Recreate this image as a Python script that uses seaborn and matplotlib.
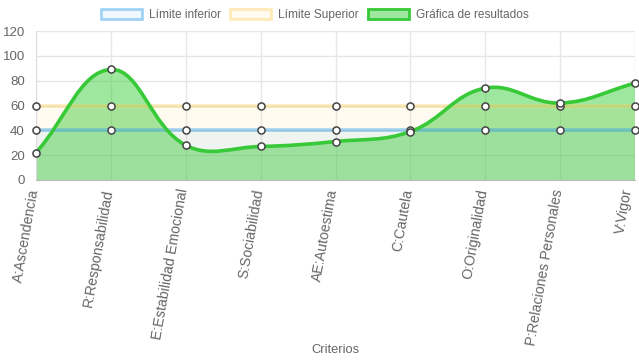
import numpy as np
import pandas as pd
import seaborn as sns
import matplotlib.pyplot as plt
import matplotlib.transforms as mtransforms
from matplotlib.path import Path
from matplotlib.patches import PathPatch, Patch

# Datos del gráfico
criterios = ["A:Ascendencia", "R:Responsabilidad", "E:Estabilidad Emocional",
             "S:Sociabilidad", "AE:Autoestima", "C:Cautela", "O:Originalidad",
             "P:Relaciones Personales", "V:Vigor"]
limite_inferior = [40, 40, 40, 40, 40, 40, 40, 40, 40]
limite_superior = [60, 60, 60, 60, 60, 60, 60, 60, 60]
resultados = [22, 89, 28, 27, 31, 39, 74, 62, 78]

df = pd.DataFrame({
    "pos": range(len(criterios)),
    "Criterio": criterios,
    "inf": limite_inferior,
    "sup": limite_superior,
    "res": resultados,
})

sns.set_style("white")
plt.rcParams["font.family"] = ["Liberation Sans", "DejaVu Sans"]

fig = plt.figure(figsize=(6.39, 3.6), dpi=100)
ax = fig.add_axes([36 / 639, 180 / 360, 599 / 639, 149 / 360])
ax.set_xlim(0, len(criterios) - 1)
ax.set_ylim(0, 120)

azul = (54 / 255, 162 / 255, 235 / 255)
amarillo = (255 / 255, 205 / 255, 86 / 255)
verde = "#37c937"

# Curva suavizada (como Chart.js, tension 0.4) calculada en pixeles
pts = ax.transData.transform(np.column_stack([df["pos"], df["res"]]))
n = len(pts)
t = 0.4
cps = []
for i in range(n):
    prev = pts[max(i - 1, 0)]
    cur = pts[i]
    nxt = pts[min(i + 1, n - 1)]
    d01 = np.hypot(*(cur - prev))
    d12 = np.hypot(*(nxt - cur))
    tot = d01 + d12
    s01 = d01 / tot if tot else 0
    s12 = d12 / tot if tot else 0
    cps.append((cur - t * s01 * (nxt - prev), cur + t * s12 * (nxt - prev)))

verts = [pts[0]]
codes = [Path.MOVETO]
for i in range(n - 1):
    verts += [cps[i][1], cps[i + 1][0], pts[i + 1]]
    codes += [Path.CURVE4] * 3
inv = ax.transData.inverted()
verts_d = inv.transform(np.array(verts))

line_path = Path(verts_d, codes)
fill_verts = list(verts_d) + [(n - 1, 0), (0, 0), verts_d[0]]
fill_codes = codes + [Path.LINETO, Path.LINETO, Path.CLOSEPOLY]
fill_path = Path(fill_verts, fill_codes)

ax.add_patch(PathPatch(fill_path, facecolor=(50 / 255, 205 / 255, 50 / 255, 0.47),
                       edgecolor="none", zorder=1))
ax.add_patch(PathPatch(line_path, facecolor="none", edgecolor=verde, lw=2.6, zorder=4))

# Rellenos de límites
ax.fill_between(df["pos"], 0, df["sup"], color=amarillo, alpha=0.08, lw=0, zorder=2)
ax.fill_between(df["pos"], 0, df["inf"], color=azul, alpha=0.07, lw=0, zorder=2)

sns.lineplot(data=df, x="pos", y="sup", ax=ax, color=amarillo, alpha=0.4, lw=2.6, zorder=3)
sns.lineplot(data=df, x="pos", y="inf", ax=ax, color=azul, alpha=0.45, lw=2.6, zorder=3)

for col in ["sup", "inf", "res"]:
    sns.scatterplot(data=df, x="pos", y=col, ax=ax, s=26, color="white",
                    edgecolor="#444444", linewidth=1.1, zorder=6, clip_on=False)

# Ejes y rejilla
ax.set_yticks(range(0, 121, 20))
ax.set_xticks(df["pos"])
ax.set_xticklabels([])
# etiquetas rotadas como texto (la última un poco a la izquierda para que no se corte)
for i, nombre in enumerate(criterios):
    dx = -7 if i == len(criterios) - 1 else -2
    off = mtransforms.ScaledTranslation(dx / 100, -9 / 100, fig.dpi_scale_trans)
    ax.text(df["pos"][i], 0, nombre, transform=ax.get_xaxis_transform() + off,
            rotation=80, ha="right", va="center", rotation_mode="anchor",
            fontsize=10.2, color="#666666")
ax.tick_params(axis="y", labelsize=9.5, labelcolor="#666666", length=6, color="#dddddd", pad=2)
ax.tick_params(axis="x", length=6, color="#dddddd", pad=2)
ax.grid(True, color="#e6e6e6", lw=1)
ax.set_axisbelow(True)
for s in ["top", "right"]:
    ax.spines[s].set_visible(False)
ax.spines["left"].set_color("#dddddd")
ax.spines["bottom"].set_color("#bbbbbb")
ax.set_ylabel("")
ax.set_xlabel("Criterios", fontsize=9.3, color="#666666")
ax.xaxis.set_label_coords(0.5, -164 / 149)

handles = [
    Patch(facecolor=(*azul, 0.07), edgecolor=(*azul, 0.45), lw=2, label="Límite inferior"),
    Patch(facecolor=(*amarillo, 0.08), edgecolor=(*amarillo, 0.4), lw=2, label="Límite Superior"),
    Patch(facecolor=(50 / 255, 205 / 255, 50 / 255, 0.47), edgecolor=verde, lw=2,
          label="Gráfica de resultados"),
]
fig.legend(handles=handles, loc="center", bbox_to_anchor=(0.493, 1 - 15 / 360), ncol=3,
           frameon=False, fontsize=8.6, handlelength=3.4, handleheight=1.0,
           columnspacing=0.8, handletextpad=0.6, labelcolor="#666666")

fig.savefig("out.png", dpi=100)
